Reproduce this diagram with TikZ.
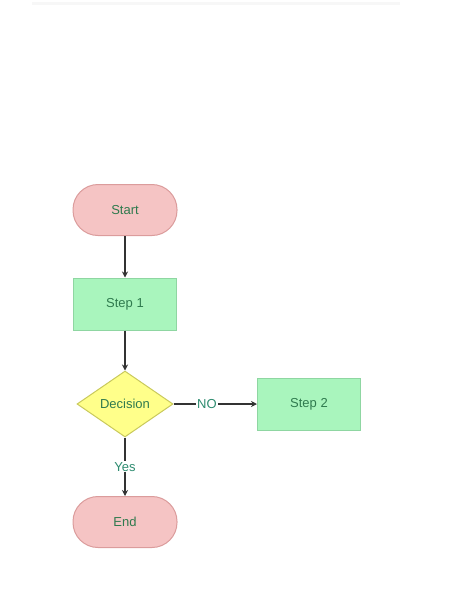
\documentclass[tikz,border=0pt]{standalone}
\usepackage{fontspec}
\setmainfont{Liberation Sans}
\usetikzlibrary{shapes.geometric,arrows.meta}
\definecolor{termfill}{HTML}{F5C4C4}
\definecolor{termline}{HTML}{DB9C9C}
\definecolor{stepfill}{HTML}{A9F5BD}
\definecolor{stepline}{HTML}{8FD6A2}
\definecolor{decfill}{HTML}{FFFF8A}
\definecolor{decline}{HTML}{C9C95C}
\definecolor{txtgreen}{HTML}{2F7A4E}
\definecolor{lblgreen}{HTML}{2E8C70}
\definecolor{arrowgray}{HTML}{333333}
\tikzset{
  term/.style={rectangle,rounded corners=25pt,draw=termline,fill=termfill,line width=1pt,
    minimum width=104pt,minimum height=51pt,text=txtgreen},
  stepbox/.style={rectangle,draw=stepline,fill=stepfill,line width=1pt,
    minimum width=103pt,minimum height=52pt,text=txtgreen},
  decide/.style={diamond,draw=decline,fill=decfill,line width=1pt,inner sep=0pt,
    minimum width=96pt,minimum height=66pt,text=txtgreen},
  flow/.style={draw=arrowgray,line width=1.2pt,-{Stealth[length=6pt,width=6pt]}},
  lbl/.style={text=lblgreen,fill=white,inner sep=1pt}
}
\begin{document}
\begin{tikzpicture}[font=\fontsize{13}{15}\selectfont]
                \useasboundingbox (0,0) rectangle (474pt,-613pt);
                \fill[gray!6] (32pt,-2pt) rectangle (400pt,-5pt);
                \node[term](start)at(125pt,-210pt){Start};
                \node[stepbox](step1)at(125pt,-304pt){Step 1};
                \node[decide](dec)at(125pt,-404pt){Decision};
                \node[stepbox](step2)at(309pt,-404pt){Step 2};
                \node[term](stop)at(125pt,-522pt){End};
                \draw[flow](start)--(step1);
                \draw[flow](step1)--(dec);
                \draw[flow](dec)--node[lbl,pos=0.4]{NO}(step2);
                \draw[flow](dec)--node[lbl]{Yes}(stop);
            \end{tikzpicture}
\end{document}
